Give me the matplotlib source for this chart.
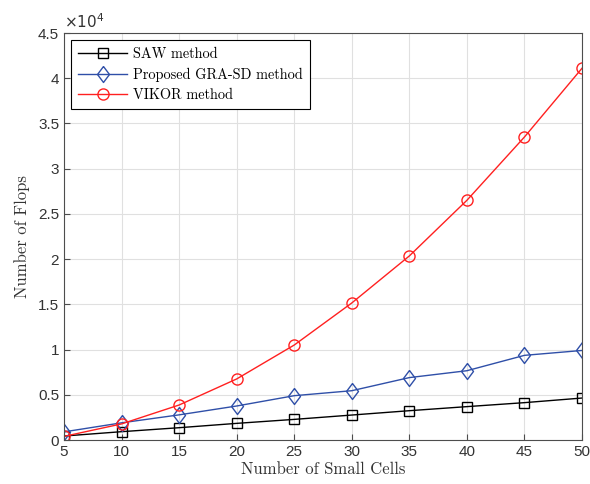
import matplotlib
matplotlib.use('Agg')
import matplotlib.pyplot as plt
from matplotlib.ticker import FuncFormatter
import numpy as np

cells = [5, 10, 15, 20, 25, 30, 35, 40, 45, 50]
saw = [440, 920, 1360, 1840, 2280, 2760, 3240, 3690, 4130, 4640]
grasd = [900, 1900, 2780, 3760, 4900, 5450, 6900, 7660, 9360, 9900]
vikor = [400, 1780, 3870, 6750, 10500, 15150, 20350, 26500, 33500, 41100]

plt.rcParams['font.family'] = ['Liberation Sans', 'DejaVu Sans']
serif = 'cmr10'

# a MATLAB-like diamond, a bit wider than matplotlib's 'd'
diamond = [(0, 1), (0.75, 0), (0, -1), (-0.75, 0), (0, 1)]

fig = plt.figure(figsize=(5.9, 4.84), dpi=100)
ax = fig.add_axes([0.1085, 0.0909, 0.8779, 0.8409])

ax.plot(cells, saw, '-s', color='black', lw=1, ms=6.5, mfc='none', mew=1, label='SAW method')
ax.plot(cells, grasd, '-', marker=diamond, color='#2f4fa8', lw=1, ms=11.5, mfc='none', mew=1,
        label='Proposed GRA-SD method')
ax.plot(cells, vikor, '-o', color='#ff2020', lw=1, ms=8, mfc='none', mew=1, label='VIKOR method')

ax.set_xlim(5, 50)
ax.set_ylim(0, 45000)
ax.set_xticks(np.arange(5, 51, 5))
ax.set_yticks(np.arange(0, 45001, 5000))
ax.yaxis.set_major_formatter(FuncFormatter(lambda v, p: '%g' % (v / 1e4)))
ax.text(0, 1.004, r'$\times10^4$', transform=ax.transAxes, fontsize=11, color='#333333',
        ha='left', va='bottom')

ax.grid(True, color='#e0e0e0', lw=0.8)
ax.set_axisbelow(True)
for s in ax.spines.values():
    s.set_color('#4d4d4d')
    s.set_linewidth(0.8)
ax.tick_params(direction='in', colors='#4d4d4d', labelcolor='#333333', labelsize=11, length=4)

ax.set_xlabel('Number of Small Cells', fontfamily=serif, fontsize=12, color='#333333', labelpad=2)
ax.set_ylabel('Number of Flops', fontfamily=serif, fontsize=12, color='#333333', labelpad=6)

leg = ax.legend(loc='upper left', prop={'family': serif, 'size': 10.3}, fancybox=False,
                edgecolor='black', framealpha=1, borderaxespad=0.5, handlelength=3.4,
                labelspacing=0.45, borderpad=0.5, handletextpad=0.4)
leg.get_frame().set_linewidth(0.8)

fig.savefig('out.png', dpi=100)
